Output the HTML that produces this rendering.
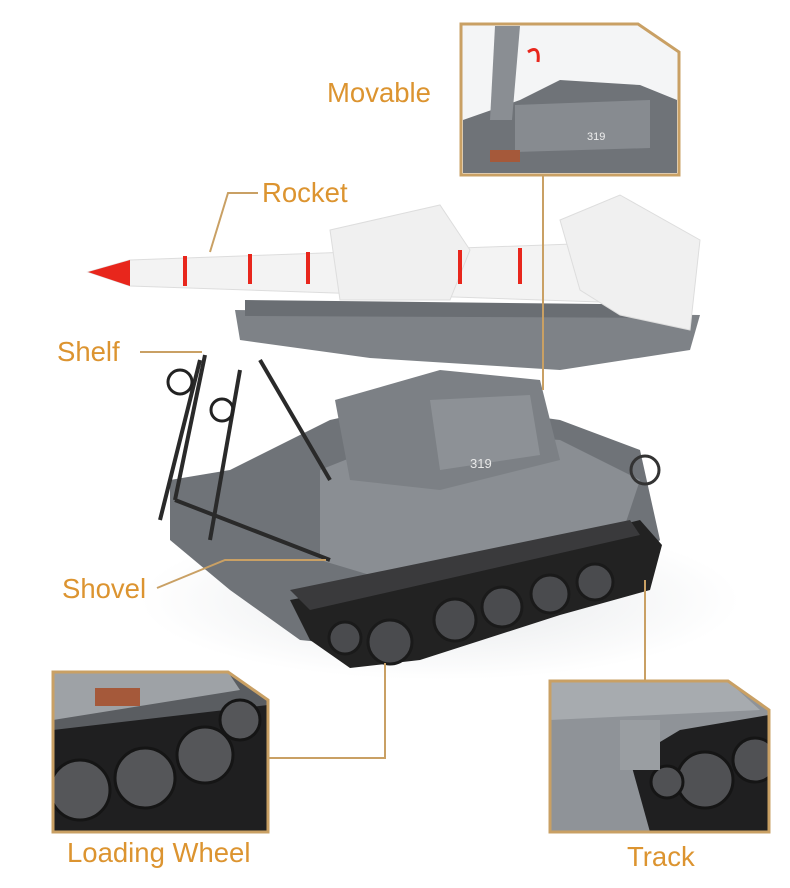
<!DOCTYPE html>
<html><head><meta charset="utf-8"><style>
html,body{margin:0;padding:0;background:#fff;}
svg{display:block}
text{font-family:"Liberation Sans",sans-serif;fill:#dc9430;font-size:27.5px}
</style></head><body>
<svg width="790" height="888" viewBox="0 0 790 888" xmlns="http://www.w3.org/2000/svg">
<defs>
<radialGradient id="sh" cx="0.5" cy="0.5" r="0.5"><stop offset="0" stop-color="#e6e8ea"/><stop offset="1" stop-color="#fff"/></radialGradient>
<clipPath id="c1"><polygon points="461,24 638,24 679,52 679,175 461,175"/></clipPath>
<clipPath id="c2"><polygon points="53,672 228,672 268,700 268,832 53,832"/></clipPath>
<clipPath id="c3"><polygon points="550,681 728,681 769,710 769,832 550,832"/></clipPath>
</defs>
<ellipse cx="440" cy="600" rx="300" ry="80" fill="url(#sh)"/>
<!-- tank body -->
<polygon points="170,480 230,470 330,420 420,400 560,420 640,450 660,540 600,600 400,650 300,640 230,590 170,540" fill="#6f7378"/>
<polygon points="320,470 420,430 560,440 640,480 620,540 420,590 320,560" fill="#8a8e93"/>
<polygon points="335,400 440,370 540,380 560,460 440,490 350,480" fill="#7c8085"/>
<polygon points="430,400 530,395 540,455 440,470" fill="#8d9196"/>
<text x="470" y="468" style="font-size:13px;fill:#e8e8e8">319</text>
<!-- tracks -->
<polygon points="290,600 420,575 640,520 662,545 650,590 560,615 420,660 350,668 310,640" fill="#222"/>
<polygon points="290,590 630,520 640,535 310,610" fill="#3a3a3c"/>
<g fill="#4a4b4e" stroke="#1a1a1a" stroke-width="3">
<circle cx="390" cy="642" r="22"/><circle cx="455" cy="620" r="21"/><circle cx="502" cy="607" r="20"/><circle cx="550" cy="594" r="19"/><circle cx="595" cy="582" r="18"/><circle cx="345" cy="638" r="16"/>
</g>
<!-- shelf -->
<polygon points="235,310 700,315 690,350 560,370 370,358 240,340" fill="#7e8287"/>
<polygon points="245,300 690,305 690,318 245,316" fill="#6a6e73"/>
<!-- stand legs -->
<g stroke="#2a2a2a" stroke-width="4" fill="none">
<line x1="205" y1="355" x2="175" y2="500"/><line x1="240" y1="370" x2="210" y2="540"/><line x1="260" y1="360" x2="330" y2="480"/><line x1="200" y1="360" x2="160" y2="520"/><line x1="175" y1="500" x2="330" y2="560"/>
</g>
<circle cx="180" cy="382" r="12" fill="none" stroke="#222" stroke-width="3"/>
<circle cx="222" cy="410" r="11" fill="none" stroke="#222" stroke-width="3"/>
<circle cx="645" cy="470" r="14" fill="none" stroke="#333" stroke-width="3"/>
<!-- rocket -->
<polygon points="88,272 130,260 600,243 660,248 690,275 660,297 600,302 130,286" fill="#f3f3f3" stroke="#ddd"/>
<polygon points="88,272 130,260 130,286" fill="#e8261c"/>
<polygon points="330,230 440,205 470,250 450,300 340,300" fill="#f0f0f0" stroke="#ddd"/>
<polygon points="560,220 620,195 700,240 690,330 620,315 580,290" fill="#f0f0f0" stroke="#ddd"/>
<g stroke="#e8261c" stroke-width="4"><line x1="185" y1="256" x2="185" y2="286"/><line x1="250" y1="254" x2="250" y2="284"/><line x1="308" y1="252" x2="308" y2="284"/><line x1="460" y1="250" x2="460" y2="284"/><line x1="520" y1="248" x2="520" y2="284"/></g>
<!-- leader lines -->
<g stroke="#c9a064" stroke-width="2" fill="none">
<polyline points="258,193 228,193 210,252"/>
<line x1="140" y1="352" x2="202" y2="352"/>
<polyline points="157,588 225,560 326,560"/>
<line x1="543" y1="175" x2="543" y2="390"/>
<polyline points="268,758 385,758 385,663"/>
<line x1="645" y1="580" x2="645" y2="681"/>
</g>
<!-- inset movable -->
<g clip-path="url(#c1)">
<polygon points="461,24 638,24 679,52 679,175 461,175" fill="#f4f5f6"/>
<polygon points="463,120 520,100 560,80 640,85 677,100 677,173 463,173" fill="#6f7378"/>
<polygon points="515,105 650,100 650,148 515,152" fill="#878b90"/>
<polygon points="495,26 520,26 512,120 490,120" fill="#8a8e93"/>
<rect x="490" y="150" width="30" height="12" fill="#a5593a"/>
<text x="587" y="140" style="font-size:11px;fill:#eee">319</text>
<path d="M528,52 q12,-8 10,10" stroke="#e8261c" stroke-width="3" fill="none"/>
</g>
<polygon points="461,24 638,24 679,52 679,175 461,175" fill="none" stroke="#c9a064" stroke-width="3"/>
<!-- inset loading wheel -->
<g clip-path="url(#c2)">
<polygon points="53,672 228,672 268,700 268,832 53,832" fill="#5a5d61"/>
<polygon points="53,672 228,672 240,690 53,720" fill="#9ea2a6"/>
<polygon points="53,730 268,705 268,832 53,832" fill="#1f1f20"/>
<g fill="#555659" stroke="#151515" stroke-width="3"><circle cx="80" cy="790" r="30"/><circle cx="145" cy="778" r="30"/><circle cx="205" cy="755" r="28"/><circle cx="240" cy="720" r="20"/></g>
<rect x="95" y="688" width="45" height="18" fill="#a5593a"/>
</g>
<polygon points="53,672 228,672 268,700 268,832 53,832" fill="none" stroke="#c9a064" stroke-width="3"/>
<!-- inset track -->
<g clip-path="url(#c3)">
<polygon points="550,681 728,681 769,710 769,832 550,832" fill="#8f9398"/>
<polygon points="550,681 728,681 760,710 550,720" fill="#a7abaf"/>
<polygon points="630,760 680,730 769,715 769,832 650,832" fill="#1f1f20"/>
<g fill="#505154" stroke="#151515" stroke-width="3"><circle cx="705" cy="780" r="28"/><circle cx="755" cy="760" r="22"/><circle cx="667" cy="782" r="16"/></g>
<rect x="620" y="720" width="40" height="50" fill="#9a9ea2"/>
</g>
<polygon points="550,681 728,681 769,710 769,832 550,832" fill="none" stroke="#c9a064" stroke-width="3"/>
<!-- labels -->
<text x="327" y="102">Movable</text>
<text x="262" y="202">Rocket</text>
<text x="57" y="361">Shelf</text>
<text x="62" y="598">Shovel</text>
<text x="67" y="862">Loading Wheel</text>
<text x="627" y="866">Track</text>
</svg>
</body></html>
